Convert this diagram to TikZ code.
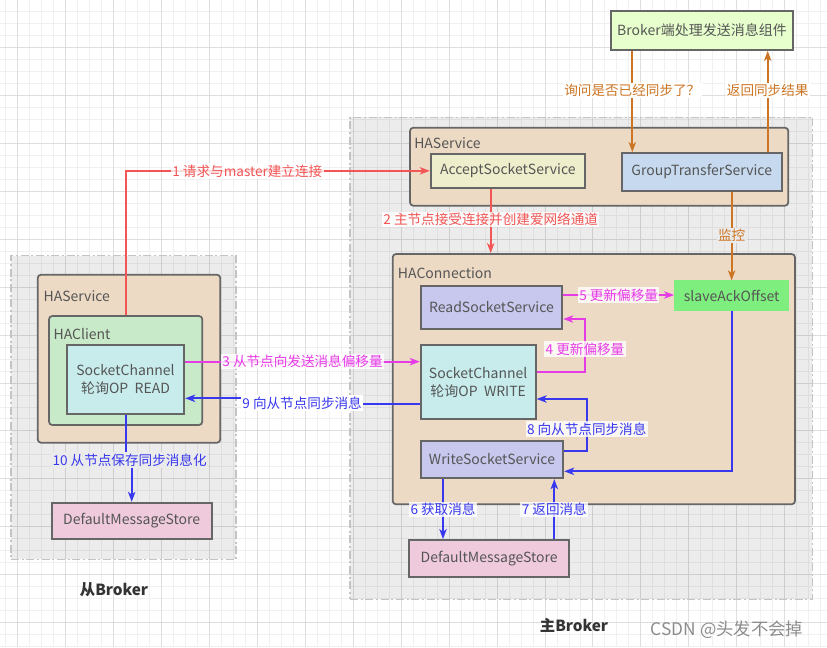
\documentclass[tikz,border=0pt]{standalone}
\usepackage{fontspec}
\setmainfont{Noto Sans CJK SC}
\usetikzlibrary{arrows.meta,calc}
\definecolor{gridminor}{HTML}{F0F0F0}
\definecolor{gridmajor}{HTML}{DEDEDE}
\definecolor{regborder}{HTML}{C4C4C4}
\definecolor{boxgray}{HTML}{666666}
\definecolor{txtgray}{HTML}{555555}
\definecolor{tan}{HTML}{EDDAC5}
\definecolor{fyellow}{HTML}{EEEECC}
\definecolor{fblue}{HTML}{C6D9EE}
\definecolor{flav}{HTML}{C8C8EE}
\definecolor{fcyan}{HTML}{C8ECEC}
\definecolor{fgreen}{HTML}{7EEE7E}
\definecolor{fhacl}{HTML}{C8EAC8}
\definecolor{fpink}{HTML}{EECADC}
\definecolor{fbrk}{HTML}{E6FFCC}
\definecolor{cred}{HTML}{F25555}
\definecolor{corange}{HTML}{CC7524}
\definecolor{cmag}{HTML}{E63CE6}
\definecolor{cblue}{HTML}{3838EE}
\definecolor{regfill}{HTML}{EBEBEB}
% \rbox{style}{x1}{y1}{x2}{y2}{name}
\newcommand\rbox[6]{\node[#1, minimum width={(#4-#2)*0.75pt}, minimum height={(#5-#3)*0.75pt}] (#6) at ({(#2+#4)/2},{(#3+#5)/2})}
\begin{document}
\begin{tikzpicture}[x=0.75pt,y=-0.75pt,
  region/.style={inner sep=0pt, draw=regborder, line width=1.1pt, fill=black, fill opacity=0.075,
    dash pattern=on 6pt off 2pt on 1.5pt off 2pt},
  cont/.style={inner sep=0pt, draw=boxgray, line width=1.3pt, fill=tan, rounded corners=2.5pt},
  box/.style={inner sep=0pt, draw=boxgray, line width=1.3pt, text=txtgray, align=center,
    font=\fontsize{10.5}{13.5}\selectfont},
  ctitle/.style={anchor=west, inner sep=0pt, text=txtgray, font=\fontsize{10.5}{13}\selectfont},
  lbl/.style={fill=white, fill opacity=0.8, text opacity=1, inner sep=1pt,
    font=\fontsize{10.2}{12}\selectfont},
  conn/.style={line width=1.5pt, -{Stealth[length=7.5pt,width=5.5pt,inset=2pt]}},
  big/.style={font=\fontsize{11.5}{13}\selectfont\bfseries, text=black!80, inner sep=0pt}
]
\useasboundingbox (0,0) rectangle (827,647);
\fill[white] (0,0) rectangle (827,647);
% grid
\foreach \i in {0,...,69} \draw[gridminor, line width=0.75pt] ({5.7+11.985*\i},0) -- ({5.7+11.985*\i},647);
\foreach \i in {0,...,54} \draw[gridminor, line width=0.75pt] (0,{-0.5+11.985*\i}) -- (827,{-0.5+11.985*\i});
\foreach \i in {0,...,17} \draw[gridmajor, line width=0.75pt] ({17.7+47.94*\i},0) -- ({17.7+47.94*\i},647);
\foreach \i in {1,...,13} \draw[gridmajor, line width=0.75pt] (0,{-0.5+47.94*\i}) -- (827,{-0.5+47.94*\i});

% regions
\rbox{region}{350}{117.3}{812.3}{599.3}{mainreg} {};
\rbox{region}{11}{255.7}{236}{559.3}{slavereg} {};

% top component
\rbox{box, fill=fbrk}{610.7}{10.7}{793.3}{50}{brk} {Broker端处理发送消息组件};

% main HAService
\rbox{cont}{410}{127.7}{788.3}{205.7}{mhas} {};
\node[ctitle] (mhast) at (414,142.7) {HAService};
\rbox{box, fill=fyellow}{430.7}{153.7}{585}{188}{ass} {AcceptSocketService};
\rbox{box, fill=fblue}{621.7}{153}{781.7}{190.7}{gts} {GroupTransferService};

% HAConnection
\rbox{cont}{392.7}{254}{795}{504.3}{hac} {};
\node[ctitle] (hact) at (397.7,272.7) {HAConnection};
\rbox{box, fill=flav}{420.7}{285.7}{562.3}{329.3}{rss} {ReadSocketService};
\rbox{box, fill=fgreen, draw=fgreen}{675}{281.3}{788.3}{310}{sao} {slaveAckOffset};
\rbox{box, fill=fcyan}{420.7}{345}{535.7}{419.3}{msc} {SocketChannel\\轮询OP\ \ WRITE};
\rbox{box, fill=flav}{420.7}{440.7}{563.3}{478.3}{wss} {WriteSocketService};
\rbox{box, fill=fpink}{409}{540}{569.3}{577}{mdms} {DefaultMessageStore};

% slave
\rbox{cont}{37.7}{274.7}{220.3}{442.7}{shas} {};
\node[ctitle] (shast) at (43.3,295.7) {HAService};
\rbox{box, fill=fhacl, rounded corners=2.5pt}{49}{316}{202.3}{425}{hacl} {};
\node[ctitle] (haclt) at (53.3,334) {HAClient};
\rbox{box, fill=fcyan}{66.7}{345}{184.3}{414.3}{ssc} {SocketChannel\\轮询OP\ \ READ};
\rbox{box, fill=fpink}{51.7}{502.7}{211.7}{539.3}{sdms} {DefaultMessageStore};

% titles
\node[big] (tslave) at (114,590) {从Broker};
\node[big] (tmain) at (574,625) {主Broker};
\node[text=black!45, inner sep=0pt, font=\fontsize{13}{15}\selectfont] (wm) at (727,630) {CSDN @头发不会掉};

% connectors
% 1
\draw[conn, cred] (hacl.north) |- (ass.west)
  node[lbl, text=cred, pos=0.70] (l1) {1 请求与master建立连接};
% 2
\draw[conn, cred] ($(ass.south)+(-17.15,0)$) coordinate (r2) -- (r2 |- hac.north)
  node[lbl, text=cred, pos=0.48] (l2) {2 主节点接受连接并创建爱网络通道};
% orange
\draw[conn, corange] ($(brk.south)+(-69.7,0)$) coordinate (o1) -- (o1 |- gts.north)
  node[lbl, text=corange, fill opacity=1, pos=0.39] (lq) {询问是否已经同步了？};
\draw[conn, corange] ($(gts.north)+(66,0)$) coordinate (o2) -- (o2 |- brk.south)
  node[lbl, text=corange, fill opacity=1, pos=0.61] (lr) {返回同步结果};
\draw[conn, corange] (sao.north |- gts.south) -- (sao.north)
  node[lbl, text=corange, pos=0.49, fill=regfill, fill opacity=1] (lm) {监控};
% 3
\draw[conn, cmag] ($(ssc.east)+(0,-18)$) coordinate (m3) -- (m3 -| msc.west)
  node[lbl, text=cmag, pos=0.5] (l3) {3 从节点向发送消息偏移量};
% 9
\draw[conn, cblue] ($(msc.west)+(0,21.85)$) -- ++(-117.7,0) coordinate (b9) |- ($(ssc.east)+(0,18.65)$);
\node[lbl, text=cblue, fill opacity=1] (l9) at ($(b9)+(0,-1)$) {9 向从节点同步消息};
% 4
\draw[conn, cmag] ($(msc.east)+(0,-10.45)$) -| ($(rss.east)+(21.7,11.5)$) -- ($(rss.east)+(0,11.5)$);
\node[lbl, text=cmag] (l4) at (585,349) {4 更新偏移量};
% 5
\draw[conn, cmag] ($(rss.east)+(0,-12.5)$) coordinate (m5) -- (m5 -| sao.west)
  node[lbl, text=cmag, pos=0.5] (l5) {5 更新偏移量};
% 8
\draw[conn, cblue] ($(wss.east)+(0,-8.5)$) -| ($(msc.east)+(50.3,16.85)$) -- ($(msc.east)+(0,16.85)$);
\node[lbl, text=cblue] (l8) at (586.7,429) {8 向从节点同步消息};
% offset -> write
\draw[conn, cblue] (sao.south) |- ($(wss.east)+(0,11.8)$);
% 6, 7
\draw[conn, cblue] ($(wss.south)+(-49,0)$) coordinate (b6) -- (b6 |- mdms.north)
  node[lbl, text=cblue, pos=0.51] (l6) {6 获取消息};
\draw[conn, cblue] ($(mdms.north)+(65.15,0)$) coordinate (b7) -- (b7 |- wss.south)
  node[lbl, text=cblue, pos=0.49] (l7) {7 返回消息};
% 10
\draw[conn, cblue] (ssc.south) -- ++(0,45.7) coordinate (b10) -| (sdms.north);
\node[lbl, text=cblue, fill=regfill, fill opacity=1] (l10) at (129.6,460) {10 从节点保存同步消息化};
\end{tikzpicture}
\end{document}
